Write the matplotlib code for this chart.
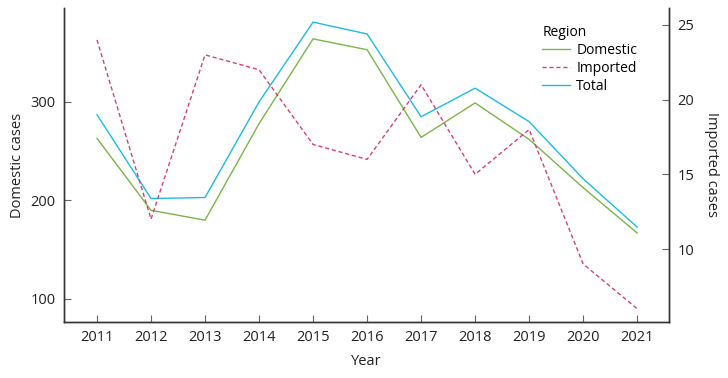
import matplotlib
matplotlib.use("Agg")
import matplotlib.pyplot as plt

plt.rcParams['font.family'] = ['Open Sans', 'DejaVu Sans']

###
### Data
###
years    = [2011, 2012, 2013, 2014, 2015, 2016, 2017, 2018, 2019, 2020, 2021]
domestic = [263, 190, 180, 278, 364, 353, 264, 299, 262, 213, 167]
imported = [24, 12, 23, 22, 17, 16, 21, 15, 18, 9, 6]
total    = [287, 202, 203, 300, 381, 369, 285, 314, 280, 222, 173]

c_dom = '#7ab648'
c_imp = '#d4407e'
c_tot = '#1cbce4'
axcol = '#333333'

###
### Plot
###
fig, ax = plt.subplots(figsize=(7.28, 3.78), dpi=100)
fig.subplots_adjust(left=0.088, right=0.919, bottom=0.148, top=0.979)
ax2 = ax.twinx()

l1, = ax.plot(years, domestic, color=c_dom, lw=1.0, label='Domestic')
l2, = ax2.plot(years, imported, color=c_imp, lw=1.0, ls=(0, (3, 2)), label='Imported')
l3, = ax.plot(years, total, color=c_tot, lw=1.0, label='Total')

ax.set_xlim(2010.39, 2021.59)
ax.set_ylim(76.6, 395.4)
ax2.set_ylim(5.11, 26.14)
ax.set_xticks(years)
ax.set_yticks([100, 200, 300])
ax2.set_yticks([10, 15, 20, 25])

for a in (ax, ax2):
    a.spines['top'].set_visible(False)
    for s in a.spines.values():
        s.set_color(axcol)
        s.set_linewidth(1.0)
    a.tick_params(direction='in', length=5, width=0.8, color='#666666',
                  labelsize=10.5, labelcolor='#222222', pad=6)

ax.set_xlabel('Year', fontsize=10.5, color='#222222', labelpad=6)
ax.set_ylabel('Domestic cases', fontsize=10.5, color='#222222', labelpad=4)
ax2.set_ylabel('Imported cases', fontsize=10.5, color='#222222',
               rotation=270, labelpad=18)

leg = ax2.legend(handles=[l1, l2, l3], title='Region', frameon=False,
                 loc='upper right', bbox_to_anchor=(0.968, 0.985),
                 fontsize=10, title_fontsize=10, handlelength=2.0,
                 handletextpad=0.45, labelspacing=0.22)
leg._legend_box.align = 'left'

plt.savefig('out.png', dpi=100)
